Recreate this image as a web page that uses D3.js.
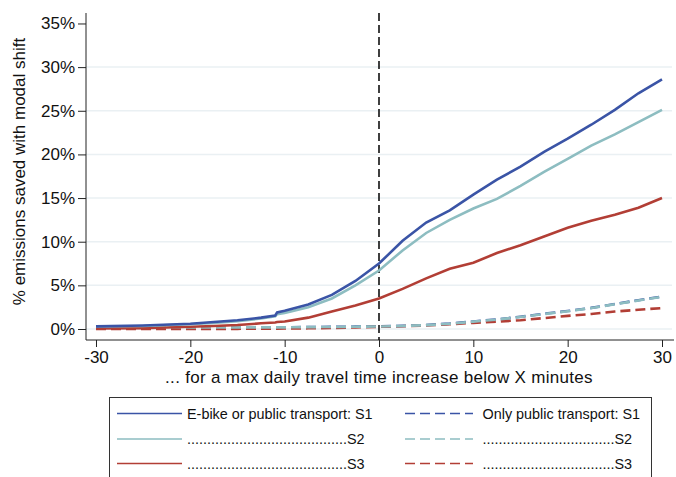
<!DOCTYPE html>
<html>
<head>
<meta charset="utf-8">
<script src="https://cdn.jsdelivr.net/npm/d3@7"></script>
<style>
  body { margin: 0; background: #fff; }
  svg { display: block; font-family: "Liberation Sans", Arial, sans-serif; }
</style>
</head>
<body>
<svg id="chart" width="676" height="477"></svg>
<script>
// minutes of extra travel time, values in % of emissions saved
const minutes = [-30, -25, -20, -17.5, -15, -12.5, -11, -10.8, -10, -7.5, -5, -2.5, 0, 2.5, 5, 7.5, 10, 12.5, 15, 17.5, 20, 22.5, 25, 27.5, 30];

const bikeS1 = [0.3, 0.4, 0.6, 0.8, 1.0, 1.3, 1.55, 1.9, 2.1, 2.8, 3.9, 5.5, 7.5, 10.1, 12.2, 13.6, 15.4, 17.1, 18.6, 20.3, 21.8, 23.4, 25.1, 27.0, 28.6];
const bikeS2 = [0.3, 0.35, 0.55, 0.7, 0.9, 1.2, 1.45, 1.7, 1.85, 2.5, 3.5, 5.0, 6.7, 9.0, 11.0, 12.5, 13.8, 14.9, 16.4, 18.0, 19.5, 21.0, 22.3, 23.7, 25.1];
const bikeS3 = [0.06, 0.1, 0.25, 0.35, 0.45, 0.65, 0.75, 0.8, 0.85, 1.3, 2.0, 2.7, 3.5, 4.6, 5.8, 6.9, 7.6, 8.7, 9.6, 10.6, 11.6, 12.4, 13.1, 13.9, 15.0];

const ptS1 = [0.25, 0.22, 0.2, 0.2, 0.2, 0.2, 0.2, 0.2, 0.2, 0.22, 0.24, 0.27, 0.3, 0.36, 0.46, 0.62, 0.86, 1.1, 1.4, 1.75, 2.06, 2.42, 2.86, 3.3, 3.72];
const ptS2 = [0.24, 0.21, 0.19, 0.19, 0.19, 0.19, 0.19, 0.19, 0.19, 0.21, 0.23, 0.26, 0.29, 0.35, 0.44, 0.6, 0.84, 1.08, 1.38, 1.72, 2.03, 2.4, 2.83, 3.27, 3.68];
const ptS3 = [0.0, 0.0, 0.0, 0.0, 0.02, 0.03, 0.04, 0.04, 0.05, 0.08, 0.12, 0.18, 0.25, 0.32, 0.4, 0.55, 0.7, 0.85, 1.0, 1.25, 1.5, 1.72, 2.0, 2.2, 2.4];

const yTicks = [0, 5, 10, 15, 20, 25, 30, 35];
const xTicks = [-30, -20, -10, 0, 10, 20, 30];

const dotsLeft = ".".repeat(40);
const dotsRight = ".".repeat(33);

const series = [
  { values: bikeS1, color: "#3a54a6", dash: null, label: "E-bike or public transport: S1", col: 0, row: 0 },
  { values: bikeS2, color: "#8dbdc1", dash: null, label: dotsLeft + "S2", col: 0, row: 1 },
  { values: bikeS3, color: "#b23e35", dash: null, label: dotsLeft + "S3", col: 0, row: 2 },
  { values: ptS1, color: "#3a54a6", dash: "10,5", label: "Only public transport: S1", col: 1, row: 0 },
  { values: ptS2, color: "#8dbdc1", dash: "10,5", label: dotsRight + "S2", col: 1, row: 1 },
  { values: ptS3, color: "#b23e35", dash: "10,5", label: dotsRight + "S3", col: 1, row: 2 }
];

const svg = d3.select("#chart");
const plotL = 86, plotR = 672, plotT = 13, plotB = 340;

const x = d3.scaleLinear().domain([-31.06, 31.06]).range([plotL, plotR]);
const y = d3.scaleLinear().domain([-1.26, 36.2]).range([plotB, plotT]);

// grid
svg.append("g")
  .selectAll("line")
  .data(yTicks.filter(d => d < 35))
  .join("line")
  .attr("x1", plotL).attr("x2", plotR)
  .attr("y1", d => y(d)).attr("y2", d => y(d))
  .attr("stroke", "#eaf0f3")
  .attr("stroke-width", 1.5);

// axes
const yAxis = svg.append("g")
  .attr("transform", `translate(${plotL},0)`)
  .call(d3.axisLeft(y).tickValues(yTicks).tickSize(8).tickPadding(3).tickFormat(d => d + "%"));
yAxis.select(".domain").attr("d", `M0,${plotT}V${plotB}`).attr("stroke", "#222");

const xAxis = svg.append("g")
  .attr("transform", `translate(0,${plotB})`)
  .call(d3.axisBottom(x).tickValues(xTicks).tickSize(7).tickPadding(4).tickFormat(d => `${d}`));
xAxis.select(".domain").attr("d", `M${plotL},0H${plotR + 2}`).attr("stroke", "#222");

svg.selectAll(".tick text").attr("font-size", 17).attr("fill", "#111").attr("font-family", "Liberation Sans, Arial, sans-serif");
svg.selectAll(".tick line").attr("stroke", "#222");

// axis titles
svg.append("text")
  .attr("x", (plotL + plotR) / 2).attr("y", 383)
  .attr("text-anchor", "middle")
  .attr("font-size", 17).attr("letter-spacing", 0.3).attr("fill", "#111")
  .text("... for a max daily travel time increase below X minutes");

svg.append("text")
  .attr("transform", `translate(25,${(plotT + plotB) / 2 - 5}) rotate(-90)`)
  .attr("text-anchor", "middle")
  .attr("font-size", 17).attr("fill", "#111")
  .text("% emissions saved with modal shift");

// reference line at 0
svg.append("line")
  .attr("x1", x(0)).attr("x2", x(0))
  .attr("y1", plotT).attr("y2", plotB)
  .attr("stroke", "#111")
  .attr("stroke-width", 1.6)
  .attr("stroke-dasharray", "8,4");

// lines
const line = d3.line()
  .x((d, i) => x(minutes[i]))
  .y(d => y(d));

svg.append("g")
  .selectAll("path")
  .data([series[3], series[5], series[4], series[2], series[1], series[0]])
  .join("path")
  .attr("d", d => line(d.values))
  .attr("fill", "none")
  .attr("stroke", d => d.color)
  .attr("stroke-width", 2.6)
  .attr("stroke-dasharray", d => d.dash);

// legend
const legend = svg.append("g");
legend.append("rect")
  .attr("x", 109.5).attr("y", 397.5)
  .attr("width", 542).attr("height", 90)
  .attr("fill", "#fff")
  .attr("stroke", "#333")
  .attr("stroke-width", 1);

const colX = [117, 405];
const rowY = [413.5, 439, 463.5];

const items = legend.selectAll("g.item")
  .data(series)
  .join("g")
  .attr("class", "item")
  .attr("transform", d => `translate(${colX[d.col]},${rowY[d.row]})`);

items.append("line")
  .attr("x1", 0).attr("x2", d => d.col === 0 ? 65 : 68)
  .attr("stroke", d => d.color)
  .attr("stroke-width", 1.6)
  .attr("stroke-dasharray", d => d.dash);

items.append("text")
  .attr("x", d => d.col === 0 ? 70 : 77.5)
  .attr("y", 5)
  .attr("font-size", 14.4)
  .attr("fill", "#111")
  .text(d => d.label);
</script>
</body>
</html>
